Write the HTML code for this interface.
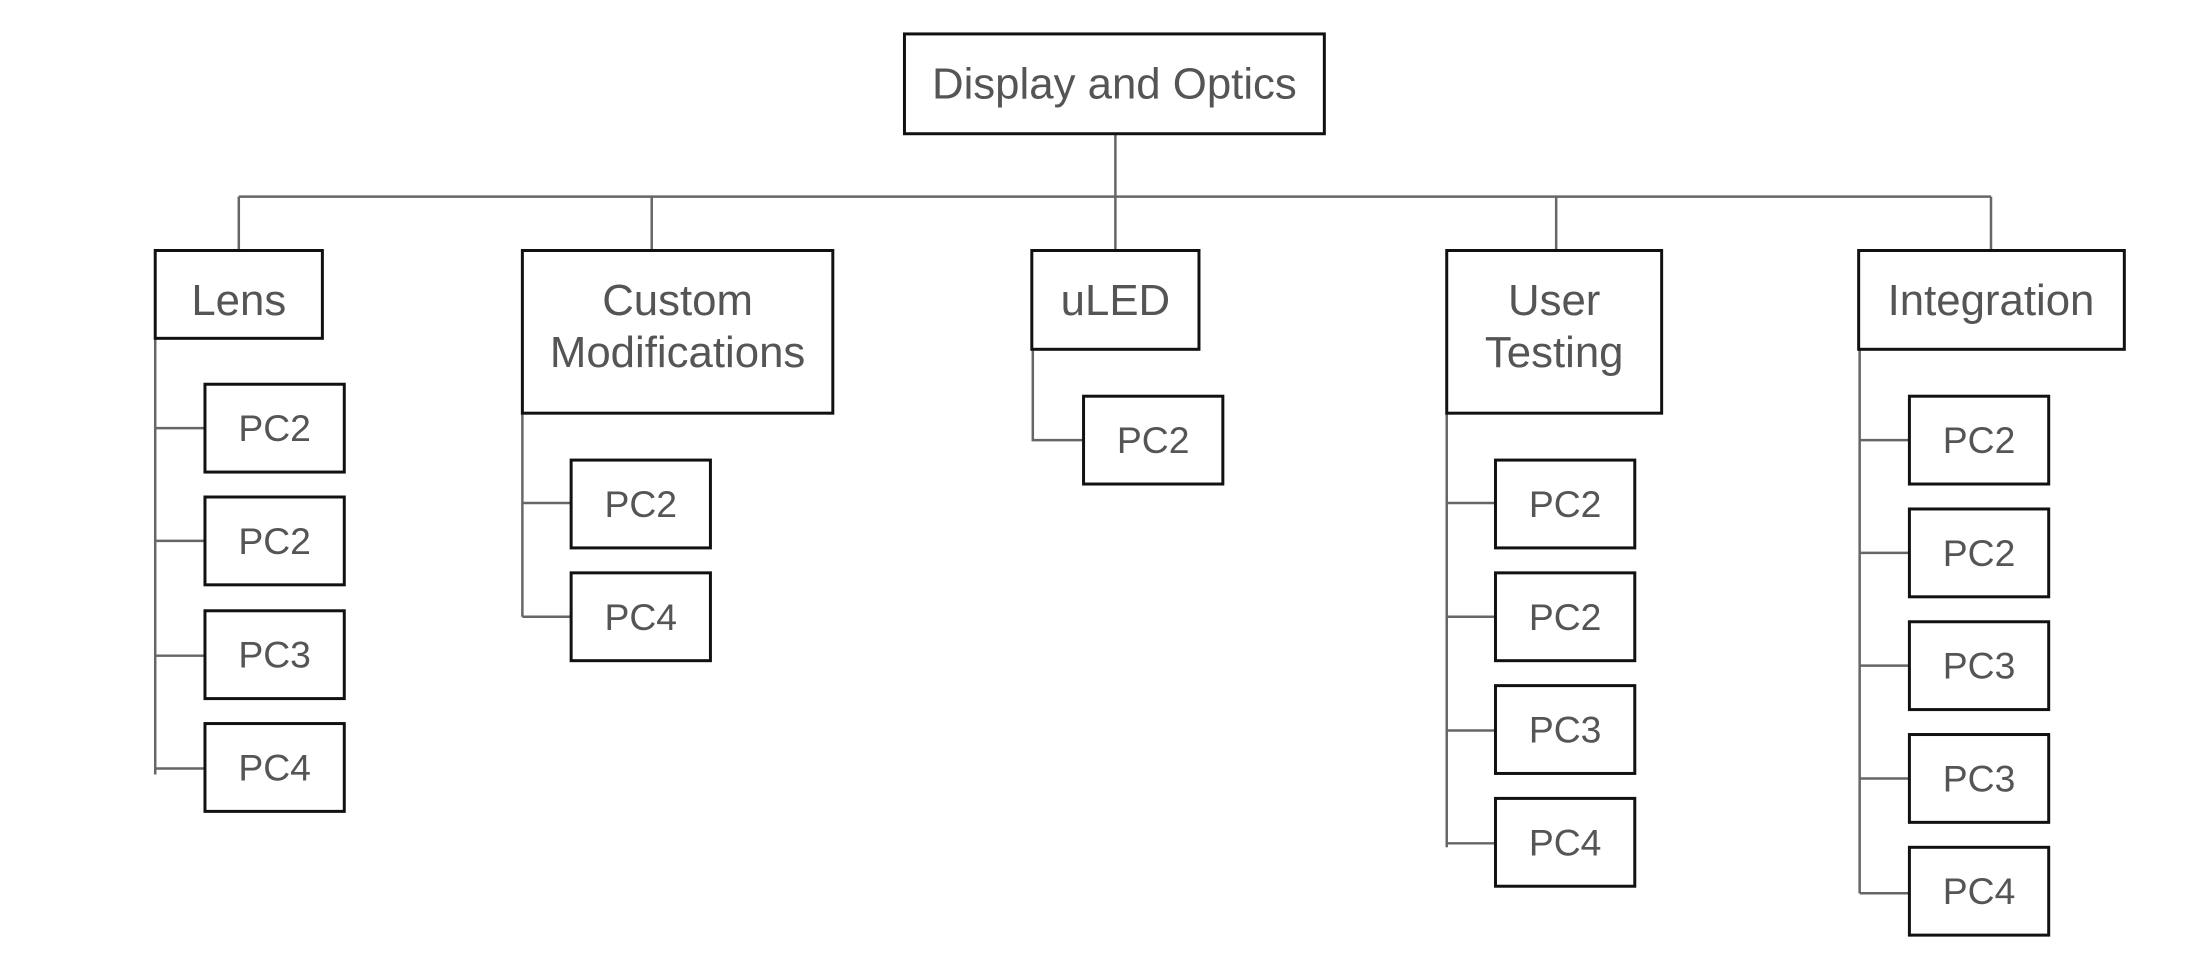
<!DOCTYPE html>
<html><head><meta charset="utf-8"><style>
html,body{margin:0;padding:0;background:#fff;width:2206px;height:977px;overflow:hidden}
text{font-family:"Liberation Sans",Arial,sans-serif;fill:#555;text-anchor:middle;dominant-baseline:central}
</style></head><body>
<svg width="2206" height="977" viewBox="0 0 2206 977" xmlns="http://www.w3.org/2000/svg">
<g transform="translate(0,1) scale(0.995,0.998)">
<g stroke="#666" stroke-width="2.5" fill="none">
<path d="M1121 133V196M240 196H2001M240 196V250M655 196V250M1121 196V250M1564 196V250M2001 196V250"/>
<path d="M156 338V775M156 428H206M156 541H206M156 656H206M156 769H206"/>
<path d="M525 413V617M525 503H574M525 617H574"/>
<path d="M1038 349V440H1089"/>
<path d="M1454 413V848M1454 503H1503M1454 617H1503M1454 731H1503M1454 844H1503"/>
<path d="M1869 349V894M1869 440H1919M1869 553H1919M1869 666H1919M1869 779H1919M1869 894H1919"/>
</g>
<g stroke="#111" stroke-width="3" fill="#fff">
<rect x="909" y="33" width="422" height="100"/>
<rect x="156" y="250" width="168" height="88"/>
<rect x="525" y="250" width="312" height="163"/>
<rect x="1037" y="250" width="168" height="99"/>
<rect x="1454" y="250" width="216" height="163"/>
<rect x="1868" y="250" width="267" height="99"/>
<rect x="206" y="384" width="140" height="88"/>
<rect x="206" y="497" width="140" height="88"/>
<rect x="206" y="611" width="140" height="88"/>
<rect x="206" y="724" width="140" height="88"/>
<rect x="574" y="460" width="140" height="88"/>
<rect x="574" y="573" width="140" height="88"/>
<rect x="1089" y="396" width="140" height="88"/>
<rect x="1503" y="460" width="140" height="88"/>
<rect x="1503" y="573" width="140" height="88"/>
<rect x="1503" y="686" width="140" height="88"/>
<rect x="1503" y="799" width="140" height="88"/>
<rect x="1919" y="396" width="140" height="88"/>
<rect x="1919" y="509" width="140" height="88"/>
<rect x="1919" y="622" width="140" height="88"/>
<rect x="1919" y="735" width="140" height="88"/>
<rect x="1919" y="848" width="140" height="88"/>
</g>
<g font-size="44">
<text x="1120" y="83">Display and Optics</text>
<text x="240" y="300">Lens</text>
<text x="681" y="300">Custom</text>
<text x="681" y="352">Modifications</text>
<text x="1121" y="300">uLED</text>
<text x="1562" y="300">User</text>
<text x="1562" y="352">Testing</text>
<text x="2001" y="300">Integration</text>
</g>
<g font-size="37.5">
<text x="276" y="428">PC2</text>
<text x="276" y="541">PC2</text>
<text x="276" y="655">PC3</text>
<text x="276" y="768">PC4</text>
<text x="644" y="504">PC2</text>
<text x="644" y="617">PC4</text>
<text x="1159" y="440">PC2</text>
<text x="1573" y="504">PC2</text>
<text x="1573" y="617">PC2</text>
<text x="1573" y="730">PC3</text>
<text x="1573" y="843">PC4</text>
<text x="1989" y="440">PC2</text>
<text x="1989" y="553">PC2</text>
<text x="1989" y="666">PC3</text>
<text x="1989" y="779">PC3</text>
<text x="1989" y="892">PC4</text>
</g>
</g>
</svg>
</body></html>
